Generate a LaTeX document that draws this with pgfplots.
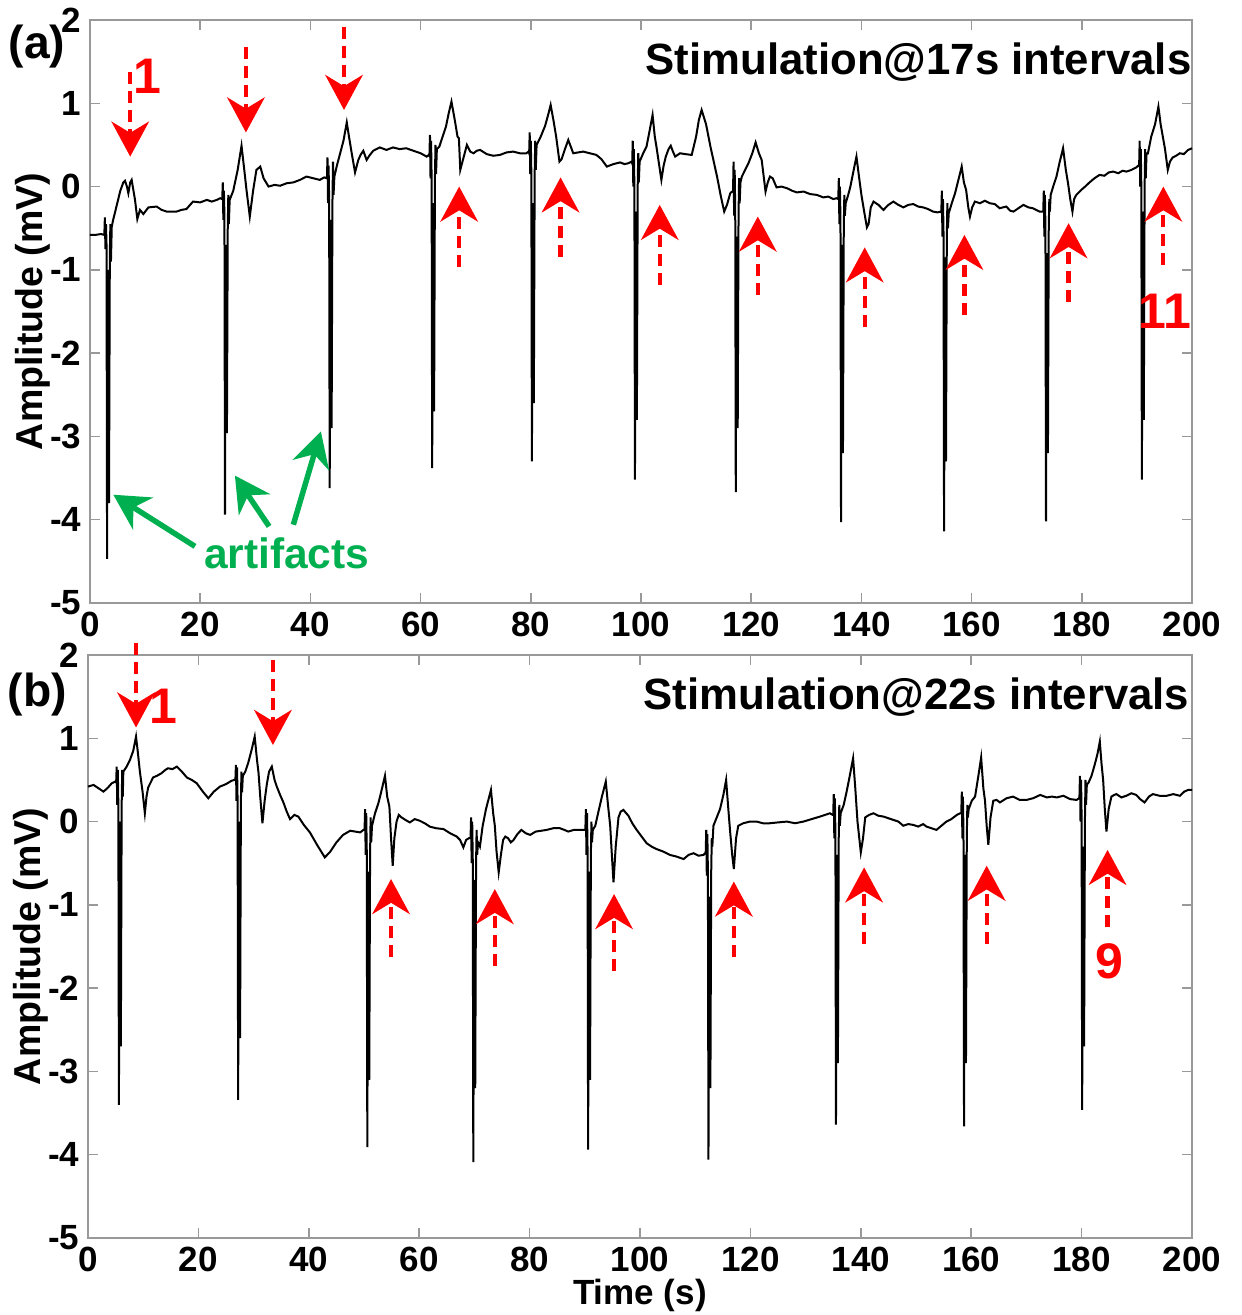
\documentclass[border=0pt]{standalone}
\usepackage{pgfplots}
\pgfplotsset{compat=1.18}
\usepackage{fontspec}
\setmainfont{Liberation Sans}
\usetikzlibrary{arrows.meta}
\definecolor{artgreen}{RGB}{0,176,80}

\pgfplotsset{
  panel/.style={
    scale only axis, height=233.2pt,
    xmin=0, xmax=200, ymin=-5, ymax=2,
    xtick={0,20,...,200}, ytick={-5,-4,...,2},
    tick align=inside, major tick length=4pt,
    axis line style={gray!80, line width=0.6pt},
    tick style={gray!80, line width=0.6pt},
    tick label style={font=\fontsize{14}{16}\selectfont\bfseries},
    /pgf/number format/assume math mode=true,
    ylabel={Amplitude (mV)},
    ylabel style={font=\fontsize{15}{17}\selectfont\bfseries},
    ylabel shift=-7pt,
    xlabel style={font=\fontsize{14}{16}\selectfont\bfseries},
    xlabel shift=-4pt,
    clip=false,
  },
  trace/.style={black, line width=0.8pt, no markers},
}
\tikzset{
  redarr/.style={red, line width=1.7pt, dash pattern=on 4.8pt off 2.8pt,
    -{Stealth[length=14pt,width=15pt,inset=4.5pt]}},
  grnarr/.style={artgreen, line width=2.2pt,
    -{Stealth[length=14pt,width=15pt,inset=4.5pt]}},
  rednum/.style={red, font=\fontsize{20}{22}\selectfont\bfseries},
  ptitle/.style={anchor=east, inner sep=0pt, font=\fontsize{17.5}{20}\selectfont\bfseries},
  plabel/.style={font=\fontsize{18.5}{20}\selectfont\bfseries},
}

\begin{document}
\begin{tikzpicture}
\useasboundingbox (-36pt,-284.8pt) rectangle (460.4pt,241.2pt);

% (a) 17 s intervals
\begin{axis}[panel, width=440.8pt, at={(0pt,0pt)}, anchor=south west]
\addplot[trace] coordinates {
(0,-0.58) (1,-0.58) (2,-0.57)
(2.6,-0.58) (2.7,-0.37) (2.8,-0.75) (2.9,-0.45) (3.0,-0.7) (3.1,-4.47) (3.25,-1.0) (3.45,-3.8) (3.6,-0.8) (3.7,-0.45) (3.8,-0.9) (3.95,-0.48)
(4.2,-0.40) (4.8,-0.24) (5.5,-0.05) (6.05,0.05) (6.35,0.07) (6.7,0.0) (6.96,-0.08) (7.3,0.05) (7.56,0.08) (8.17,-0.16) (8.59,-0.39) (9.07,-0.28) (9.68,-0.33) (10.6,-0.25) (12.1,-0.24) (13.0,-0.28) (13.9,-0.30) (15.7,-0.30) (16.6,-0.28) (17.5,-0.27) (18.7,-0.18) (20.0,-0.19) (21.2,-0.16) (22.1,-0.18) (23.0,-0.16) (23.6,-0.14)
(24.0,-0.15) (24.1,0.05) (24.2,-0.4) (24.3,-0.05) (24.4,-0.35) (24.5,-3.94) (24.65,-0.7) (24.85,-2.96) (25.0,-0.5) (25.1,-0.1) (25.2,-0.45) (25.35,-0.16)
(26.0,-0.05) (26.8,0.2) (27.5,0.49) (28.0,0.2) (28.4,-0.04) (29.0,-0.36) (29.6,-0.05) (30.2,0.2) (30.9,0.24) (31.5,0.1) (32.4,0.0) (33.5,0.02) (34.5,0.01) (35.7,0.04) (36.9,0.05) (38.1,0.08) (39.3,0.12) (40.5,0.10) (41.7,0.08) (42.5,0.11)
(43.0,0.1) (43.1,0.35) (43.2,-0.2) (43.3,0.25) (43.4,-0.15) (43.5,-3.62) (43.65,-0.4) (43.85,-2.9) (44.0,-0.2) (44.1,0.3) (44.2,-0.1) (44.35,0.12)
(44.8,0.25) (45.4,0.40) (46.0,0.55) (46.6,0.77) (47.0,0.6) (47.5,0.40) (48.1,0.17) (48.7,0.32) (49.1,0.38) (49.6,0.43) (50.2,0.32) (50.8,0.38) (51.4,0.43) (52.6,0.47) (53.8,0.44) (55.0,0.47) (56.2,0.45) (57.4,0.46) (58.7,0.43) (60.0,0.40) (61.1,0.36) (61.5,0.38)
(61.6,0.37) (61.7,0.62) (61.8,0.1) (61.9,0.55) (62.0,0.1) (62.1,-3.38) (62.25,-0.2) (62.45,-2.7) (62.6,0.1) (62.7,0.5) (62.8,0.15) (62.95,0.45)
(63.4,0.48) (64.0,0.6) (64.6,0.72) (65.1,0.88) (65.6,1.02) (66.2,0.8) (66.7,0.60) (66.95,0.58) (67.2,0.20) (67.8,0.35) (68.4,0.50) (69.0,0.42) (69.6,0.40) (70.2,0.43) (70.8,0.44) (72.0,0.39) (73.2,0.37) (74.4,0.38) (75.6,0.41) (76.8,0.42) (78.0,0.40) (79.2,0.40) (79.6,0.42)
(79.7,0.4) (79.8,0.65) (79.9,0.15) (80.0,0.55) (80.1,0.15) (80.2,-3.30) (80.35,-0.2) (80.55,-2.6) (80.7,0.15) (80.8,0.55) (80.9,0.2) (81.05,0.5)
(81.8,0.6) (82.6,0.73) (83.1,0.85) (83.6,0.98) (84.1,0.8) (84.6,0.60) (85.2,0.30) (85.6,0.33) (86.2,0.45) (86.8,0.56) (87.7,0.40) (88.6,0.41) (89.5,0.42) (90.7,0.40) (91.9,0.38) (92.8,0.33) (93.8,0.24) (95.0,0.27) (96.2,0.29) (97.0,0.27) (97.7,0.28) (98.3,0.30)
(98.4,0.28) (98.5,0.55) (98.6,0.0) (98.7,0.45) (98.8,0.0) (98.9,-3.52) (99.05,-0.3) (99.25,-2.8) (99.4,0.0) (99.5,0.4) (99.6,0.05) (99.75,0.3)
(100.4,0.4) (101.0,0.48) (101.5,0.65) (102.1,0.86) (102.5,0.6) (102.8,0.48) (103.2,0.3) (103.7,0.08) (104.1,0.25) (104.5,0.36) (105.0,0.45) (105.4,0.49) (105.8,0.42) (106.2,0.36) (107.1,0.40) (108.0,0.39) (109.2,0.38) (110.0,0.6) (110.5,0.8) (111.0,0.92) (111.8,0.75) (112.6,0.48) (113.2,0.3) (113.8,0.12) (114.5,-0.12) (115.1,-0.30) (115.6,-0.22) (116.2,-0.08)
(116.7,-0.05) (116.8,0.3) (116.9,-0.35) (117.0,0.2) (117.1,-0.3) (117.2,-3.67) (117.35,-0.6) (117.55,-2.9) (117.7,-0.35) (117.8,0.1) (117.9,-0.2) (118.05,0.05)
(118.3,0.12) (118.9,0.2) (119.5,0.28) (120.2,0.4) (120.8,0.53) (121.4,0.4) (121.9,0.32) (122.6,-0.06) (123.0,0.05) (123.4,0.12) (123.9,0.1) (124.6,-0.01) (125.5,0.0) (126.5,-0.02) (127.4,-0.05) (128.3,-0.07) (129.5,-0.06) (130.7,-0.09) (131.9,-0.1) (133.1,-0.13) (134.0,-0.12) (134.9,-0.15) (135.5,-0.14)
(135.8,-0.15) (135.9,0.1) (136.0,-0.45) (136.1,0.0) (136.2,-0.4) (136.3,-4.03) (136.45,-0.7) (136.65,-3.2) (136.8,-0.5) (136.9,-0.1) (137.0,-0.35) (137.15,-0.2)
(137.6,-0.1) (138.0,0.0) (138.6,0.2) (139.1,0.36) (139.6,0.1) (140.0,-0.1) (140.5,-0.3) (141.0,-0.49) (141.3,-0.45) (141.7,-0.25) (142.2,-0.18) (143.1,-0.22) (144.0,-0.28) (144.9,-0.22) (145.8,-0.18) (146.7,-0.22) (147.6,-0.25) (148.5,-0.22) (149.4,-0.21) (150.3,-0.24) (151.2,-0.25) (152.1,-0.27) (153.0,-0.30) (153.8,-0.31) (154.4,-0.3)
(154.5,-0.31) (154.6,-0.05) (154.7,-0.6) (154.8,-0.15) (154.9,-0.55) (155.0,-4.14) (155.15,-0.85) (155.35,-3.3) (155.5,-0.6) (155.6,-0.2) (155.7,-0.5) (155.85,-0.32)
(156.4,-0.2) (157.0,-0.08) (157.6,0.08) (158.2,0.24) (158.6,0.05) (159.0,-0.04) (159.4,-0.25) (159.7,-0.36) (160.1,-0.25) (160.6,-0.18) (161.5,-0.20) (162.4,-0.17) (163.3,-0.20) (164.2,-0.21) (165.1,-0.26) (166.3,-0.24) (167.0,-0.29) (167.6,-0.30) (168.5,-0.26) (169.4,-0.22) (170.3,-0.25) (171.1,-0.26) (171.7,-0.28) (172.3,-0.30) (172.8,-0.3)
(173.0,-0.3) (173.1,-0.05) (173.2,-0.6) (173.3,-0.1) (173.4,-0.5) (173.5,-4.02) (173.65,-0.8) (173.85,-3.2) (174.0,-0.5) (174.1,-0.15) (174.2,-0.3) (174.35,-0.1)
(174.8,0.0) (175.4,0.12) (176.0,0.3) (176.6,0.46) (177.1,0.2) (177.5,0.04) (177.9,-0.15) (178.3,-0.30) (178.6,-0.15) (179.0,-0.10) (179.9,-0.04) (180.6,0.0) (181.4,0.05) (182.3,0.1) (183.2,0.14) (184.1,0.13) (184.9,0.17) (185.7,0.18) (186.6,0.16) (187.4,0.19) (188.1,0.18) (189.0,0.2) (189.9,0.23) (190.2,0.25)
(190.4,0.25) (190.5,0.55) (190.6,0.0) (190.7,0.45) (190.8,0.0) (190.9,-3.52) (191.05,-0.3) (191.25,-2.8) (191.4,0.0) (191.5,0.45) (191.6,0.1) (191.75,0.4)
(192.0,0.4) (192.6,0.60) (193.3,0.75) (193.9,0.96) (194.3,0.75) (194.7,0.6) (195.1,0.45) (195.6,0.20) (196.0,0.3) (196.5,0.35) (197.1,0.37) (197.8,0.40) (198.5,0.39) (199.3,0.44) (200,0.46)
};
% stimulation markers
\draw[redarr] (axis cs:7.3,1.37) -- (axis cs:7.3,0.36);
\draw[redarr] (axis cs:28.3,1.68) -- (axis cs:28.3,0.65);
\draw[redarr] (axis cs:46.1,1.92) -- (axis cs:46.1,0.92);
\draw[redarr] (axis cs:67.0,-0.96) -- (axis cs:67.0,0.0);
\draw[redarr] (axis cs:85.4,-0.84) -- (axis cs:85.4,0.11);
\draw[redarr] (axis cs:103.4,-1.18) -- (axis cs:103.4,-0.22);
\draw[redarr] (axis cs:121.2,-1.30) -- (axis cs:121.2,-0.36);
\draw[redarr] (axis cs:140.6,-1.69) -- (axis cs:140.6,-0.73);
\draw[redarr] (axis cs:158.7,-1.54) -- (axis cs:158.7,-0.58);
\draw[redarr] (axis cs:177.6,-1.38) -- (axis cs:177.6,-0.44);
\draw[redarr] (axis cs:194.8,-0.94) -- (axis cs:194.8,0.0);
\node[rednum] at (axis cs:10.5,1.32) {1};
\node[rednum] at (axis cs:195.1,-1.50) {11};
% artifacts
\draw[grnarr] (axis cs:19.06,-4.32) -- (axis cs:4.23,-3.70);
\draw[grnarr] (axis cs:32.5,-4.08) -- (axis cs:26.3,-3.47);
\draw[grnarr] (axis cs:36.9,-4.06) -- (axis cs:41.9,-2.94);
\node[artgreen, font=\fontsize{17}{20}\selectfont\bfseries] at (axis cs:35.7,-4.40) {artifacts};
\node[ptitle] at (axis cs:200,1.5) {Stimulation@17s intervals};
\node[plabel] at (axis cs:-9.6,1.68) {(a)};
\end{axis}

% (b) 22 s intervals
\begin{axis}[panel, width=441.6pt, at={(-0.8pt,-254pt)}, anchor=south west, xlabel={Time (s)}]
\addplot[trace] coordinates {
(0,0.42) (1.0,0.44) (1.9,0.40) (2.8,0.36) (3.5,0.4) (4.3,0.46) (4.9,0.48)
(5.1,0.47) (5.2,0.66) (5.3,0.2) (5.4,0.62) (5.5,0.2) (5.6,-3.40) (5.75,0.0) (5.95,-2.7) (6.1,0.2) (6.2,0.62) (6.3,0.3) (6.4,0.60)
(7.0,0.66) (7.6,0.74) (8.2,0.85) (8.7,1.02) (9.0,0.85) (9.4,0.60) (9.9,0.35) (10.3,0.10) (10.6,0.3) (10.9,0.41) (11.8,0.53) (12.5,0.55) (13.3,0.58) (14.0,0.62) (14.5,0.64) (15.3,0.63) (16.1,0.66) (17.0,0.6) (17.9,0.53) (18.8,0.5) (19.7,0.46) (20.8,0.36) (21.8,0.28) (22.8,0.36) (23.9,0.42) (25.0,0.45) (26.0,0.49) (26.5,0.5)
(26.7,0.5) (26.8,0.68) (26.9,0.25) (27.0,0.65) (27.1,0.25) (27.2,-3.34) (27.35,0.0) (27.55,-2.6) (27.7,0.25) (27.8,0.6) (27.9,0.35) (28.05,0.55)
(28.5,0.6) (29.0,0.70) (29.6,0.85) (30.2,1.02) (30.6,0.75) (30.9,0.58) (31.2,0.3) (31.6,-0.02) (32.0,0.25) (32.4,0.45) (32.8,0.6) (33.3,0.66) (33.8,0.5) (34.2,0.42) (34.8,0.32) (35.4,0.23) (36.0,0.12) (36.6,0.03) (37.4,0.08) (38.1,0.06) (39.1,-0.04) (40.2,-0.13) (41.5,-0.28) (42.9,-0.43) (43.9,-0.36) (45.0,-0.25) (46.2,-0.16) (47.5,-0.11) (48.4,-0.12) (49.3,-0.13) (49.9,-0.1)
(50.1,-0.1) (50.2,0.15) (50.3,-0.4) (50.4,0.1) (50.5,-0.35) (50.6,-3.91) (50.75,-0.6) (50.95,-3.1) (51.1,-0.4) (51.2,0.05) (51.3,-0.25) (51.45,-0.05)
(52.0,0.1) (52.6,0.22) (53.2,0.38) (53.8,0.55) (54.2,0.3) (54.6,0.18) (54.9,-0.2) (55.2,-0.53) (55.5,-0.2) (55.9,0.0) (56.3,0.08) (56.8,0.05) (57.5,0.02) (58.3,-0.01) (59.2,0.03) (60.1,0.01) (61.0,-0.02) (61.9,-0.06) (63.1,-0.08) (64.4,-0.09) (65.6,-0.14) (66.8,-0.18) (67.4,-0.22) (68.0,-0.31) (68.5,-0.22) (69.0,-0.2)
(69.3,-0.2) (69.4,0.05) (69.5,-0.5) (69.6,0.0) (69.7,-0.45) (69.8,-4.09) (69.95,-0.7) (70.15,-3.2) (70.3,-0.5) (70.4,-0.1) (70.5,-0.4) (70.65,-0.25)
(71.0,-0.3) (71.5,-0.05) (72.1,0.15) (73.0,0.38) (73.4,0.1) (73.7,-0.05) (74.0,-0.35) (74.4,-0.61) (74.8,-0.4) (75.2,-0.22) (75.6,-0.18) (76.1,-0.2) (76.6,-0.25) (77.1,-0.22) (77.8,-0.15) (78.5,-0.10) (79.3,-0.14) (80.1,-0.16) (81.1,-0.12) (82.1,-0.11) (83.1,-0.10) (84.3,-0.08) (85.5,-0.08) (86.3,-0.1) (87.0,-0.12) (88.0,-0.1) (89.1,-0.10) (89.8,-0.1)
(90.1,-0.1) (90.2,0.15) (90.3,-0.4) (90.4,0.1) (90.5,-0.35) (90.6,-3.94) (90.75,-0.6) (90.95,-3.1) (91.1,-0.4) (91.2,0.0) (91.3,-0.25) (91.45,-0.1)
(91.9,-0.05) (92.4,0.1) (93.1,0.3) (93.8,0.48) (94.2,0.2) (94.6,-0.05) (94.9,-0.4) (95.2,-0.73) (95.6,-0.3) (96.1,0.05) (96.5,0.12) (97.0,0.14) (97.5,0.1) (97.9,0.07) (98.6,-0.02) (99.4,-0.10) (100.3,-0.18) (101.2,-0.26) (102.1,-0.3) (103.0,-0.33) (104.2,-0.36) (105.4,-0.40) (106.6,-0.42) (107.9,-0.45) (108.8,-0.4) (109.7,-0.38) (110.6,-0.41) (111.5,-0.40) (111.8,-0.38)
(111.9,-0.38) (112.0,-0.1) (112.1,-0.65) (112.2,-0.15) (112.3,-0.6) (112.4,-4.06) (112.55,-0.9) (112.75,-3.2) (112.9,-0.6) (113.0,-0.2) (113.1,-0.3) (113.3,-0.05)
(113.9,0.05) (114.5,0.15) (115.1,0.32) (115.6,0.50) (116.0,0.15) (116.3,-0.1) (116.7,-0.4) (117.0,-0.57) (117.4,-0.2) (117.8,-0.05) (118.7,-0.02) (119.9,0.0) (121.1,0.0) (122.3,-0.02) (123.5,-0.02) (125.0,-0.01) (126.6,0.0) (128.1,-0.02) (129.6,0.0) (131.1,0.03) (132.6,0.06) (133.5,0.08) (134.4,0.1) (134.9,0.08)
(135.0,0.08) (135.1,0.33) (135.2,-0.2) (135.3,0.28) (135.4,-0.15) (135.5,-3.64) (135.65,-0.4) (135.85,-2.9) (136.0,-0.2) (136.1,0.2) (136.2,-0.05) (136.35,0.1)
(136.9,0.2) (137.4,0.35) (138.0,0.55) (138.6,0.76) (139.0,0.4) (139.4,0.0) (140.0,-0.37) (140.4,-0.2) (140.8,0.05) (141.5,0.08) (142.3,0.1) (143.2,0.07) (144.1,0.06) (145.0,0.04) (145.9,0.02) (146.8,0.0) (147.7,-0.05) (148.6,-0.03) (149.5,-0.04) (150.4,-0.06) (151.3,-0.03) (151.9,-0.06) (152.8,-0.08) (153.7,-0.10) (154.6,-0.05) (155.5,0.0) (156.4,0.03) (157.4,0.08) (158.0,0.1)
(158.2,0.1) (158.3,0.36) (158.4,-0.2) (158.5,0.3) (158.6,-0.15) (158.7,-3.66) (158.85,-0.4) (159.05,-2.9) (159.2,-0.2) (159.3,0.2) (159.4,0.05) (159.55,0.15)
(160.1,0.25) (160.7,0.30) (161.3,0.55) (161.8,0.77) (162.2,0.4) (162.5,0.25) (162.8,-0.05) (163.1,-0.28) (163.5,0.05) (164.0,0.25) (164.6,0.26) (165.2,0.23) (166.4,0.28) (167.6,0.30) (168.8,0.26) (170.0,0.26) (171.2,0.28) (172.5,0.32) (173.7,0.29) (174.6,0.3) (175.5,0.29) (176.7,0.31) (177.9,0.27) (179.1,0.26) (179.5,0.28)
(179.6,0.28) (179.7,0.55) (179.8,0.0) (179.9,0.5) (180.0,0.05) (180.1,-3.46) (180.25,-0.3) (180.45,-2.7) (180.6,0.0) (180.7,0.5) (180.8,0.2) (180.95,0.45)
(181.2,0.46) (181.8,0.55) (182.4,0.69) (182.9,0.82) (183.3,0.96) (183.6,0.7) (183.9,0.5) (184.2,0.15) (184.5,-0.12) (184.9,0.15) (185.4,0.3) (185.9,0.32) (186.3,0.33) (187.2,0.29) (188.1,0.31) (189.0,0.34) (189.9,0.32) (190.6,0.27) (191.4,0.23) (192.2,0.3) (192.9,0.33) (194.1,0.31) (195.4,0.31) (196.6,0.33) (197.8,0.31) (198.6,0.36) (199.3,0.38) (200,0.38)
};
\draw[redarr] (axis cs:8.7,2.14) -- (axis cs:8.7,1.13);
\draw[redarr] (axis cs:33.5,1.94) -- (axis cs:33.5,0.92);
\draw[redarr] (axis cs:54.9,-1.63) -- (axis cs:54.9,-0.69);
\draw[redarr] (axis cs:73.7,-1.74) -- (axis cs:73.7,-0.81);
\draw[redarr] (axis cs:95.3,-1.80) -- (axis cs:95.3,-0.87);
\draw[redarr] (axis cs:117.0,-1.63) -- (axis cs:117.0,-0.72);
\draw[redarr] (axis cs:140.6,-1.47) -- (axis cs:140.6,-0.55);
\draw[redarr] (axis cs:162.8,-1.47) -- (axis cs:162.8,-0.53);
\draw[redarr] (axis cs:184.7,-1.27) -- (axis cs:184.7,-0.34);
\node[rednum] at (axis cs:13.6,1.38) {1};
\node[rednum] at (axis cs:185.1,-1.68) {9};
\node[ptitle] at (axis cs:199.6,1.49) {Stimulation@22s intervals};
\node[plabel] at (axis cs:-9.2,1.52) {(b)};
\end{axis}
\end{tikzpicture}
\end{document}
